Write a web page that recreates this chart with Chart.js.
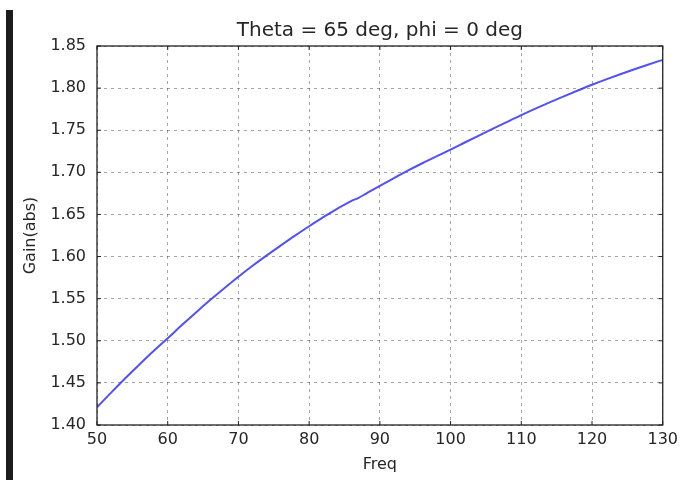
<!DOCTYPE html>
<html>
<head>
<meta charset="utf-8">
<script src="https://cdn.jsdelivr.net/npm/chart.js@4/dist/chart.umd.min.js"></script>
<style>
  html, body { margin: 0; padding: 0; background: #fff; }
  #wrap { position: relative; width: 683px; height: 480px; }
  #edge { position: absolute; left: 6px; top: 10px; width: 7px; height: 470px; background: #1c1c1c; }
</style>
</head>
<body>
<div id="wrap">
  <canvas id="gainChart" width="683" height="480"></canvas>
  <div id="edge"></div>
</div>
<script>
// values
const freq = [50, 52, 54, 56, 58, 60, 62, 64, 66, 68, 70, 72, 74, 76, 78, 80, 82, 84, 86, 87,
              88, 90, 92, 94, 96, 98, 100, 102, 104, 106, 108, 110, 112, 114, 116, 118, 120,
              122, 124, 126, 128, 130];
const gain = [1.421, 1.4385, 1.4555, 1.4719, 1.4878, 1.503, 1.5186, 1.5337, 1.5483, 1.5624, 1.576,
              1.589, 1.6014, 1.6132, 1.6248, 1.636, 1.6468, 1.657, 1.6662, 1.6697,
              1.6745, 1.684, 1.6932, 1.7022, 1.7108, 1.719, 1.727, 1.7354, 1.7437, 1.7519, 1.760,
              1.768, 1.7756, 1.783, 1.7902, 1.7972, 1.804, 1.8104, 1.8165, 1.8224, 1.8281, 1.8335];
const xTicks = [50, 60, 70, 80, 90, 100, 110, 120, 130];
const yTicks = [1.40, 1.45, 1.50, 1.55, 1.60, 1.65, 1.70, 1.75, 1.80, 1.85];

const FONT = 'DejaVu Sans';
const TEXT = '#262626';

// matplotlib-like frame with inward tick marks
const framePlugin = {
    id: 'frame',
    afterDatasetsDraw(chart) {
        const { ctx, chartArea: a, scales } = chart;
        ctx.save();
        ctx.strokeStyle = '#222';
        ctx.lineWidth = 1.3;
        ctx.strokeRect(a.left, a.top, a.right - a.left, a.bottom - a.top);
        ctx.lineWidth = 1;
        xTicks.forEach(v => {
            const x = scales.x.getPixelForValue(v);
            ctx.beginPath();
            ctx.moveTo(x, a.bottom); ctx.lineTo(x, a.bottom - 4);
            ctx.moveTo(x, a.top); ctx.lineTo(x, a.top + 4);
            ctx.stroke();
        });
        yTicks.forEach(v => {
            const y = scales.y.getPixelForValue(v);
            ctx.beginPath();
            ctx.moveTo(a.left, y); ctx.lineTo(a.left + 4, y);
            ctx.moveTo(a.right, y); ctx.lineTo(a.right - 4, y);
            ctx.stroke();
        });
        ctx.restore();
    }
};

const ctx = document.getElementById('gainChart').getContext('2d');
new Chart(ctx, {
    type: 'scatter',
    data: {
        datasets: [{
            data: freq.map((f, i) => ({ x: f, y: gain[i] })),
            showLine: true,
            borderColor: 'rgba(50, 50, 245, 0.85)',
            borderWidth: 2,
            pointRadius: 0,
            cubicInterpolationMode: 'monotone',
            fill: false
        }]
    },
    options: {
        responsive: false,
        animation: false,
        layout: { padding: { left: 0, right: 20, top: 0, bottom: 0 } },
        plugins: {
            legend: { display: false },
            tooltip: { enabled: false },
            title: {
                display: true,
                text: 'Theta = 65 deg, phi = 0 deg',
                fullSize: false,
                color: TEXT,
                font: { family: FONT, size: 20, weight: 'normal', lineHeight: 1.2 },
                padding: { top: 19, bottom: 3 }
            }
        },
        scales: {
            x: {
                type: 'linear',
                min: 50,
                max: 130,
                afterBuildTicks: s => { s.ticks = xTicks.map(v => ({ value: v })); },
                afterFit: s => { s.height = 55; },
                grid: { color: 'rgba(0,0,0,0.35)', borderDash: [3, 4], drawTicks: false },
                border: { display: false, dash: [3, 4] },
                ticks: { color: TEXT, padding: 5, font: { family: FONT, size: 16 } },
                title: {
                    display: true, text: 'Freq', color: TEXT,
                    font: { family: FONT, size: 16, lineHeight: 1.2 },
                    padding: { top: 0, bottom: 6 }
                }
            },
            y: {
                type: 'linear',
                min: 1.40,
                max: 1.85,
                afterBuildTicks: s => { s.ticks = yTicks.map(v => ({ value: v })); },
                afterFit: s => { s.width = 97; },
                grid: { color: 'rgba(0,0,0,0.35)', borderDash: [3, 4], drawTicks: false },
                border: { display: false, dash: [3, 4] },
                ticks: {
                    color: TEXT, padding: 11, font: { family: FONT, size: 16 },
                    callback: v => v.toFixed(2)
                },
                title: {
                    display: true, text: 'Gain(abs)', color: TEXT,
                    font: { family: FONT, size: 16, lineHeight: 1.2 },
                    padding: { top: 21, bottom: 0 }
                }
            }
        }
    },
    plugins: [framePlugin]
});
</script>
</body>
</html>
